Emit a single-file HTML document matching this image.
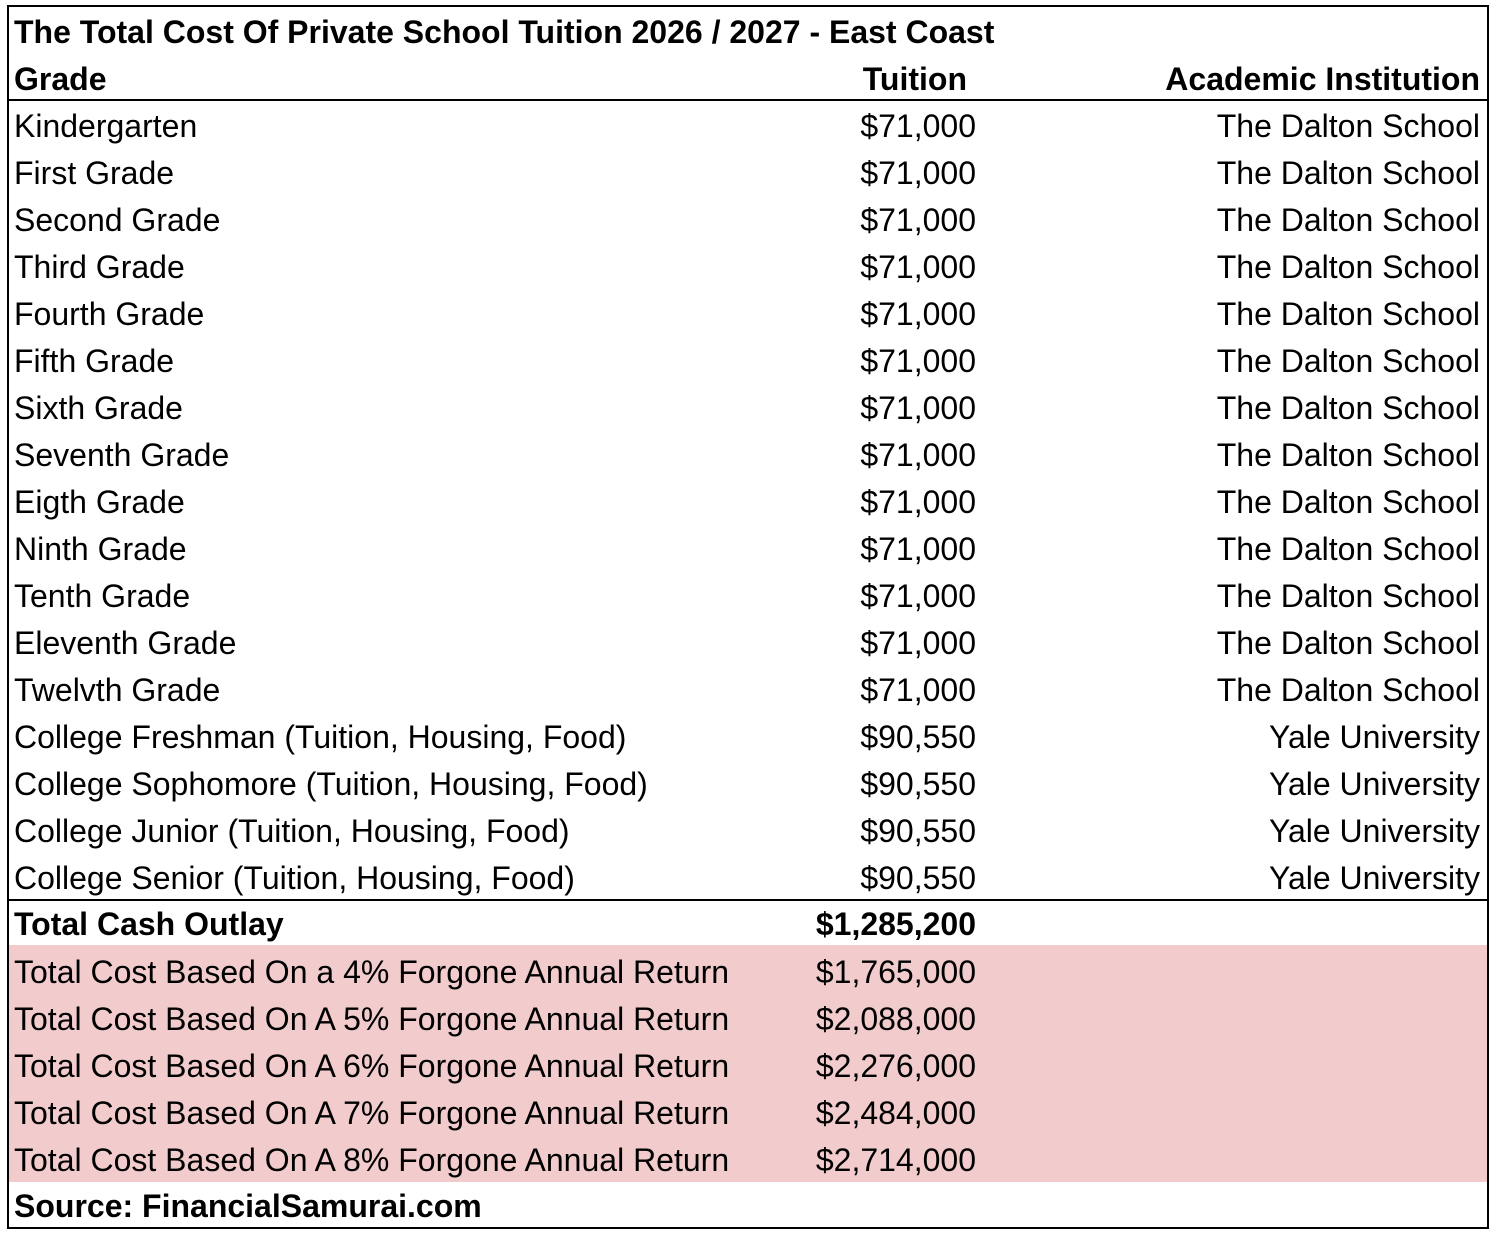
<!DOCTYPE html>
<html><head><style>
body{margin:0;width:1493px;height:1237px;background:#fff;font-family:"Liberation Sans",Arial,sans-serif;font-size:32px;color:#000;position:relative;overflow:hidden}
.box{position:absolute;left:7px;top:5px;width:1478px;height:1220px;border:2px solid #000}
.r{position:absolute;left:0;width:1493px;height:47px;line-height:47px;white-space:nowrap}
.a{position:absolute;left:14px}
.b{position:absolute;right:517px}
.c{position:absolute;right:13px}
.bold{font-weight:bold}
.hl{position:absolute;left:9px;width:1478px;height:2px;background:#000}
.pink{position:absolute;left:9px;top:945px;width:1478px;height:237px;background:#f2cccc}
</style></head><body>
<div class="pink"></div>
<div class="box"></div>
<div class="hl" style="top:99px"></div>
<div class="hl" style="top:899px"></div>
<div class="r bold" style="top:9px"><span class="a">The Total Cost Of Private School Tuition 2026 / 2027 - East Coast</span></div>
<div class="r bold" style="top:56px"><span class="a">Grade</span><span class="b" style="right:526px">Tuition</span><span class="c">Academic Institution</span></div>
<div class="r" style="top:103px"><span class="a">Kindergarten</span><span class="b">$71,000</span><span class="c">The Dalton School</span></div>
<div class="r" style="top:150px"><span class="a">First Grade</span><span class="b">$71,000</span><span class="c">The Dalton School</span></div>
<div class="r" style="top:197px"><span class="a">Second Grade</span><span class="b">$71,000</span><span class="c">The Dalton School</span></div>
<div class="r" style="top:244px"><span class="a">Third Grade</span><span class="b">$71,000</span><span class="c">The Dalton School</span></div>
<div class="r" style="top:291px"><span class="a">Fourth Grade</span><span class="b">$71,000</span><span class="c">The Dalton School</span></div>
<div class="r" style="top:338px"><span class="a">Fifth Grade</span><span class="b">$71,000</span><span class="c">The Dalton School</span></div>
<div class="r" style="top:385px"><span class="a">Sixth Grade</span><span class="b">$71,000</span><span class="c">The Dalton School</span></div>
<div class="r" style="top:432px"><span class="a">Seventh Grade</span><span class="b">$71,000</span><span class="c">The Dalton School</span></div>
<div class="r" style="top:479px"><span class="a">Eigth Grade</span><span class="b">$71,000</span><span class="c">The Dalton School</span></div>
<div class="r" style="top:526px"><span class="a">Ninth Grade</span><span class="b">$71,000</span><span class="c">The Dalton School</span></div>
<div class="r" style="top:573px"><span class="a">Tenth Grade</span><span class="b">$71,000</span><span class="c">The Dalton School</span></div>
<div class="r" style="top:620px"><span class="a">Eleventh Grade</span><span class="b">$71,000</span><span class="c">The Dalton School</span></div>
<div class="r" style="top:667px"><span class="a">Twelvth Grade</span><span class="b">$71,000</span><span class="c">The Dalton School</span></div>
<div class="r" style="top:714px"><span class="a">College Freshman (Tuition, Housing, Food)</span><span class="b">$90,550</span><span class="c">Yale University</span></div>
<div class="r" style="top:761px"><span class="a">College Sophomore (Tuition, Housing, Food)</span><span class="b">$90,550</span><span class="c">Yale University</span></div>
<div class="r" style="top:808px"><span class="a">College Junior (Tuition, Housing, Food)</span><span class="b">$90,550</span><span class="c">Yale University</span></div>
<div class="r" style="top:855px"><span class="a">College Senior (Tuition, Housing, Food)</span><span class="b">$90,550</span><span class="c">Yale University</span></div>
<div class="r bold" style="top:901px"><span class="a">Total Cash Outlay</span><span class="b">$1,285,200</span></div>
<div class="r" style="top:949px"><span class="a">Total Cost Based On a 4% Forgone Annual Return</span><span class="b">$1,765,000</span></div>
<div class="r" style="top:996px"><span class="a">Total Cost Based On A 5% Forgone Annual Return</span><span class="b">$2,088,000</span></div>
<div class="r" style="top:1043px"><span class="a">Total Cost Based On A 6% Forgone Annual Return</span><span class="b">$2,276,000</span></div>
<div class="r" style="top:1090px"><span class="a">Total Cost Based On A 7% Forgone Annual Return</span><span class="b">$2,484,000</span></div>
<div class="r" style="top:1137px"><span class="a">Total Cost Based On A 8% Forgone Annual Return</span><span class="b">$2,714,000</span></div>
<div class="r bold" style="top:1183px"><span class="a">Source: FinancialSamurai.com</span></div>
</body></html>
